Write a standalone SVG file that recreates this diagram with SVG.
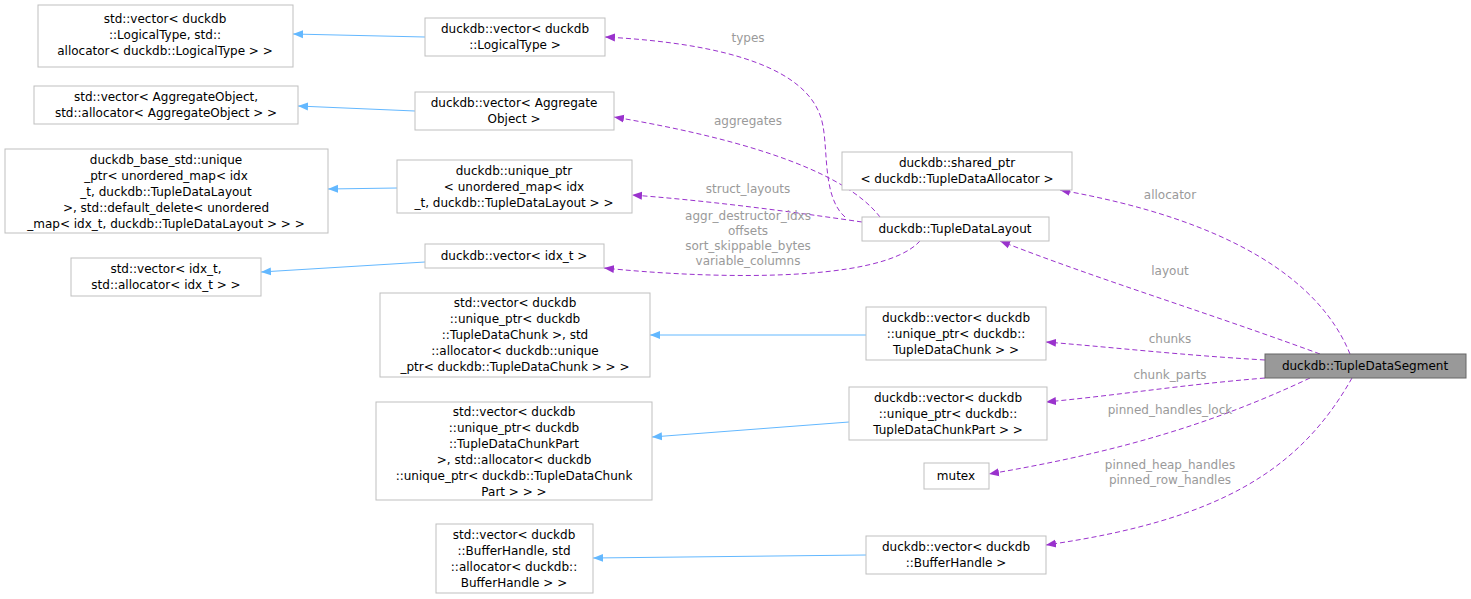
<svg xmlns="http://www.w3.org/2000/svg" width="1471" height="599" viewBox="0 0 1471 599">
<defs>
<style>
.n rect{fill:#fff;stroke:#bfbfbf;stroke-width:1}
.n text,.g text{font-family:"DejaVu Sans",sans-serif;font-size:12px;fill:#000;text-anchor:middle}
.b{fill:none;stroke:#63b8ff;stroke-width:1}
.p{fill:none;stroke:#9a32cd;stroke-width:1;stroke-dasharray:5,3}
.l{font-family:"DejaVu Sans",sans-serif;font-size:12px;fill:#9a9a9a;text-anchor:middle}
</style>
<marker id="ab" viewBox="0 0 10 10" refX="10" refY="5" markerWidth="10" markerHeight="10" orient="auto"><path d="M0,1 L10,5 L0,9 z" fill="#63b8ff"/></marker>
<marker id="ap" viewBox="0 0 10 10" refX="10" refY="5" markerWidth="10" markerHeight="10" orient="auto"><path d="M0,1 L10,5 L0,9 z" fill="#9a32cd"/></marker>
</defs>
<g id="connectors">
<path class="b" d="M425,37 L293,34" marker-end="url(#ab)"/>
<path class="b" d="M415,111 L298,106" marker-end="url(#ab)"/>
<path class="b" d="M397,188 L328,189" marker-end="url(#ab)"/>
<path class="b" d="M425,262 L261,272" marker-end="url(#ab)"/>
<path class="b" d="M866,335 L650,335" marker-end="url(#ab)"/>
<path class="b" d="M849,422 L652,437" marker-end="url(#ab)"/>
<path class="b" d="M866,555 L593,558" marker-end="url(#ab)"/>
<path class="p" d="M845,217 C820,195 830,140 820,115 C800,60 700,42 605,37" marker-end="url(#ap)"/>
<path class="p" d="M880,217 C840,165 720,135 614,117" marker-end="url(#ap)"/>
<path class="p" d="M862,222 C780,210 700,200 632,195" marker-end="url(#ap)"/>
<path class="p" d="M920,241 C880,285 700,278 604,268" marker-end="url(#ap)"/>
<path class="p" d="M1350,354 C1320,280 1230,220 1060,190" marker-end="url(#ap)"/>
<path class="p" d="M1320,354 C1200,310 1100,280 1000,241" marker-end="url(#ap)"/>
<path class="p" d="M1265,360 C1180,355 1120,348 1046,342" marker-end="url(#ap)"/>
<path class="p" d="M1265,378 C1180,385 1120,395 1046,402" marker-end="url(#ap)"/>
<path class="p" d="M1310,378 C1200,430 1100,455 989,474" marker-end="url(#ap)"/>
<path class="p" d="M1352,378 C1300,470 1220,520 1046,545" marker-end="url(#ap)"/>
<text class="l" x="748" y="42">types</text>
<text class="l" x="748" y="125">aggregates</text>
<text class="l" x="748" y="193">struct_layouts</text>
<text class="l" x="748" y="220">aggr_destructor_idxs</text>
<text class="l" x="748" y="235">offsets</text>
<text class="l" x="748" y="250">sort_skippable_bytes</text>
<text class="l" x="748" y="265">variable_columns</text>
<text class="l" x="1170" y="199">allocator</text>
<text class="l" x="1170" y="275">layout</text>
<text class="l" x="1170" y="343">chunks</text>
<text class="l" x="1170" y="379">chunk_parts</text>
<text class="l" x="1170" y="414">pinned_handles_lock</text>
<text class="l" x="1170" y="469">pinned_heap_handles</text>
<text class="l" x="1170" y="484">pinned_row_handles</text>
</g>
<g id="n1" class="n"><rect x="38" y="5" width="255" height="62"/><text x="165" y="23">std::vector&lt; duckdb</text><text x="165" y="39">::LogicalType, std::</text><text x="165" y="55">allocator&lt; duckdb::LogicalType &gt; &gt;</text></g>
<g id="n2" class="n"><rect x="425" y="18" width="180" height="38"/><text x="515" y="33">duckdb::vector&lt; duckdb</text><text x="515" y="49">::LogicalType &gt;</text></g>
<g id="n3" class="n"><rect x="34" y="86" width="264" height="38"/><text x="166" y="101">std::vector&lt; AggregateObject,</text><text x="166" y="117">std::allocator&lt; AggregateObject &gt; &gt;</text></g>
<g id="n4" class="n"><rect x="415" y="92" width="199" height="38"/><text x="514" y="107">duckdb::vector&lt; Aggregate</text><text x="514" y="123">Object &gt;</text></g>
<g id="n5" class="n"><rect x="5" y="149" width="323" height="84"/><text x="166" y="164">duckdb_base_std::unique</text><text x="166" y="180">_ptr&lt; unordered_map&lt; idx</text><text x="166" y="196">_t, duckdb::TupleDataLayout</text><text x="166" y="212"> &gt;, std::default_delete&lt; unordered</text><text x="166" y="228">_map&lt; idx_t, duckdb::TupleDataLayout &gt; &gt; &gt;</text></g>
<g id="n6" class="n"><rect x="397" y="160" width="235" height="53"/><text x="514" y="175">duckdb::unique_ptr</text><text x="514" y="191">&lt; unordered_map&lt; idx</text><text x="514" y="207">_t, duckdb::TupleDataLayout &gt; &gt;</text></g>
<g id="n7" class="n"><rect x="71" y="258" width="190" height="38"/><text x="166" y="273">std::vector&lt; idx_t,</text><text x="166" y="289">std::allocator&lt; idx_t &gt; &gt;</text></g>
<g id="n8" class="n"><rect x="425" y="244" width="179" height="24"/><text x="514" y="260">duckdb::vector&lt; idx_t &gt;</text></g>
<g id="n9" class="n"><rect x="842" y="152" width="230" height="38"/><text x="957" y="167">duckdb::shared_ptr</text><text x="957" y="183">&lt; duckdb::TupleDataAllocator &gt;</text></g>
<g id="n10" class="n"><rect x="862" y="217" width="187" height="24"/><text x="955" y="233">duckdb::TupleDataLayout</text></g>
<g id="n11" class="n"><rect x="380" y="293" width="270" height="84"/><text x="515" y="307">std::vector&lt; duckdb</text><text x="515" y="323">::unique_ptr&lt; duckdb</text><text x="515" y="339">::TupleDataChunk &gt;, std</text><text x="515" y="355">::allocator&lt; duckdb::unique</text><text x="515" y="371">_ptr&lt; duckdb::TupleDataChunk &gt; &gt; &gt;</text></g>
<g id="n12" class="n"><rect x="866" y="307" width="180" height="53"/><text x="956" y="322">duckdb::vector&lt; duckdb</text><text x="956" y="338">::unique_ptr&lt; duckdb::</text><text x="956" y="354">TupleDataChunk &gt; &gt;</text></g>
<g id="n13" class="n"><rect x="1265" y="354" width="201" height="24" style="fill:#999;stroke:#666"/><text x="1365" y="370">duckdb::TupleDataSegment</text></g>
<g id="n14" class="n"><rect x="376" y="402" width="276" height="98"/><text x="514" y="416">std::vector&lt; duckdb</text><text x="514" y="432">::unique_ptr&lt; duckdb</text><text x="514" y="448">::TupleDataChunkPart</text><text x="514" y="464"> &gt;, std::allocator&lt; duckdb</text><text x="514" y="480">::unique_ptr&lt; duckdb::TupleDataChunk</text><text x="514" y="496">Part &gt; &gt; &gt;</text></g>
<g id="n15" class="n"><rect x="849" y="387" width="198" height="53"/><text x="948" y="402">duckdb::vector&lt; duckdb</text><text x="948" y="418">::unique_ptr&lt; duckdb::</text><text x="948" y="434">TupleDataChunkPart &gt; &gt;</text></g>
<g id="n16" class="n"><rect x="924" y="463" width="65" height="26"/><text x="956" y="480">mutex</text></g>
<g id="n17" class="n"><rect x="436" y="524" width="157" height="69"/><text x="514" y="539">std::vector&lt; duckdb</text><text x="514" y="555">::BufferHandle, std</text><text x="514" y="571">::allocator&lt; duckdb::</text><text x="514" y="587">BufferHandle &gt; &gt;</text></g>
<g id="n18" class="n"><rect x="866" y="536" width="180" height="38"/><text x="956" y="551">duckdb::vector&lt; duckdb</text><text x="956" y="567">::BufferHandle &gt;</text></g>
</svg>
